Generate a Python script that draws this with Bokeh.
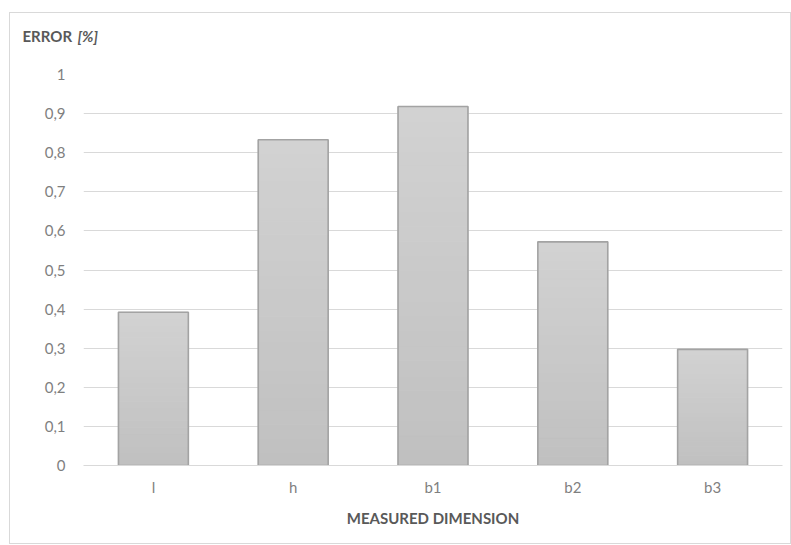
from bokeh.plotting import figure
from bokeh.layouts import column
from bokeh.models import FixedTicker, ColumnDataSource, Range1d
from bokeh.core.properties import value
from bokeh.embed import file_html
from bokeh.resources import INLINE

categories = ["l", "h", "b1", "b2", "b3"]
errors = [0.392, 0.833, 0.918, 0.572, 0.297]
y_ticks = [0, 0.1, 0.2, 0.3, 0.4, 0.5, 0.6, 0.7, 0.8, 0.9, 1]
y_tick_labels = ["0", "0,1", "0,2", "0,3", "0,4", "0,5", "0,6", "0,7", "0,8", "0,9", "1"]
title_main = "ERROR"
title_unit = "[%]"

FONT = "Lato"

# header strip holding the mixed-style axis title
head = figure(x_range=Range1d(0, 780), y_range=Range1d(0, 45), width=780, height=45,
              output_backend="svg", toolbar_location=None, min_border=0)
head.frame_align = False
head.axis.visible = False
head.grid.visible = False
head.outline_line_color = None
head.text(x=[12], y=[23], text=[title_main], text_font=value(FONT), text_font_size="15px",
          text_font_style="bold", text_color="#595959", text_baseline="middle")
head.text(x=[67], y=[23], text=[title_unit], text_font=value(FONT), text_font_size="15px",
          text_font_style="bold italic", text_color="#595959", text_baseline="middle")

p = figure(x_range=categories, y_range=(0, 1), output_backend="svg", toolbar_location=None,
           width=780, height=485, min_border_left=73, min_border_top=16,
           min_border_right=8, min_border_bottom=78)
p.frame_align = False
p.outline_line_color = None
p.background_fill_color = "white"
p.border_fill_color = "white"

# gradient-like bar fill built from slices
N = 24
top_c = (0xd2, 0xd2, 0xd2)
bot_c = (0xc0, 0xc0, 0xc0)
for i in range(N):
    f = (i + 0.5) / N
    col = "#%02x%02x%02x" % tuple(int(round(b + (t - b) * f)) for t, b in zip(top_c, bot_c))
    src = ColumnDataSource(dict(x=categories,
                                bottom=[v * i / N for v in errors],
                                top=[v * (i + 1) / N for v in errors]))
    p.vbar(x="x", bottom="bottom", top="top", width=0.5, source=src,
           fill_color=col, line_color=col, line_width=1)
p.vbar(x=categories, top=errors, width=0.5, fill_color=None, line_color="#a3a3a3", line_width=1.6)

p.yaxis.ticker = FixedTicker(ticks=y_ticks)
p.yaxis.major_label_overrides = {t: l for t, l in zip(y_ticks, y_tick_labels)}
p.yaxis.axis_line_color = None
p.yaxis.major_tick_line_color = None
p.yaxis.minor_tick_line_color = None
p.yaxis.major_label_standoff = 12
p.ygrid.ticker = FixedTicker(ticks=y_ticks)
p.ygrid.grid_line_color = "#d9d9d9"
p.xgrid.grid_line_color = None

p.xaxis.axis_line_color = "#d9d9d9"
p.xaxis.major_tick_line_color = None
p.xaxis.minor_tick_line_color = None
p.xaxis.major_label_standoff = 6
p.xaxis.axis_label = "MEASURED DIMENSION"
p.xaxis.axis_label_standoff = 10
p.xaxis.axis_label_text_font = FONT
p.xaxis.axis_label_text_font_style = "bold"
p.xaxis.axis_label_text_font_size = "15px"
p.xaxis.axis_label_text_color = "#595959"

for ax in (p.xaxis, p.yaxis):
    ax.major_label_text_font = FONT
    ax.major_label_text_font_size = "15px"
    ax.major_label_text_color = "#7f7f7f"

layout = column(head, p, spacing=0, margin=(12, 0, 0, 9),
                styles={"border": "1px solid #d9d9d9", "background-color": "white"})

open("out.html", "w").write(file_html(layout, INLINE))
